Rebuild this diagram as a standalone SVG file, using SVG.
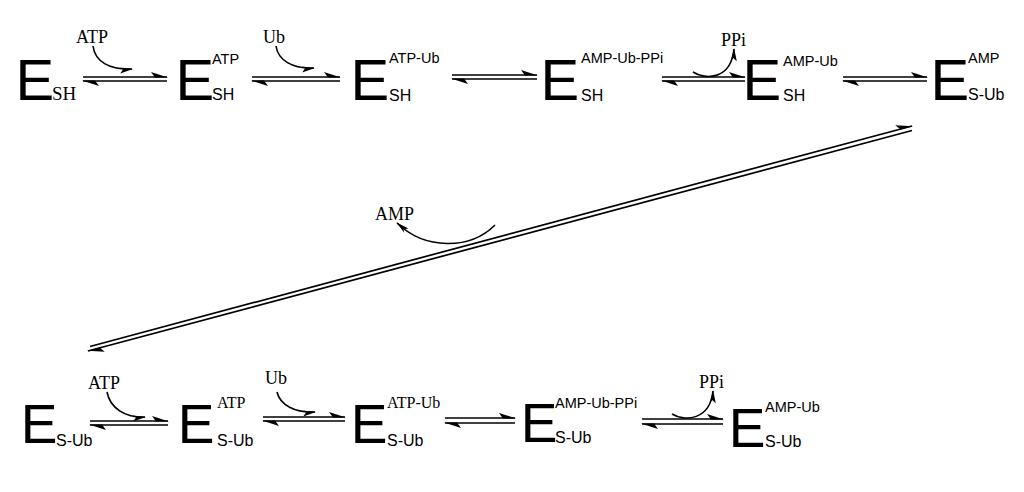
<svg xmlns="http://www.w3.org/2000/svg" width="1024" height="492" viewBox="0 0 1024 492">
<defs>
<style>
.E{font-family:"Liberation Sans",Arial,sans-serif;fill:#000}
.e1{font-size:58px}
.e2{font-size:55px}
.sup{font-family:"Liberation Sans",Arial,sans-serif;font-size:14.5px;fill:#000}
.sub{font-family:"Liberation Sans",Arial,sans-serif;font-size:16px;fill:#000}
.ser{font-family:"Liberation Serif","Times New Roman",serif;fill:#000}
.lab{font-size:18px}
.ln{stroke:#000;stroke-width:1.7;fill:none;marker-end:url(#harp)}
.cv{stroke:#000;stroke-width:1.6;fill:none;marker-end:url(#barb)}
</style>
<marker id="harp" markerUnits="userSpaceOnUse" orient="auto" refX="0" refY="0" markerWidth="20" markerHeight="12" viewBox="-18 -6 20 12" overflow="visible">
<path d="M1,0.4 L-16,-5 L-12,0.4 Z" fill="#000"/>
</marker>
<marker id="barb" markerUnits="userSpaceOnUse" orient="auto" refX="0" refY="0" markerWidth="14" markerHeight="10" viewBox="-12 -5 14 10" overflow="visible">
<path d="M1,0 L-12,4 L-9,0 L-12,-2 Z" fill="#000"/>
</marker>
</defs>
<rect width="1024" height="492" fill="#fff"/>

<g id="connectors">
<path class="ln" d="M83,77 H167"/><path class="ln" d="M167,81 H83"/>
<path class="ln" d="M252,77 H340"/><path class="ln" d="M340,81 H252"/>
<path class="ln" d="M452,75 H537"/><path class="ln" d="M537,79 H452"/>
<path class="ln" d="M662,77 H745"/><path class="ln" d="M745,81 H662"/>
<path class="ln" d="M843,77 H927"/><path class="ln" d="M927,81 H843"/>
<path class="ln" d="M90,346.5 L912,126"/><path class="ln" d="M912,130.5 L88,351"/>
<path class="ln" d="M90,421 H168"/><path class="ln" d="M168,425 H90"/>
<path class="ln" d="M263,417 H345"/><path class="ln" d="M345,421 H263"/>
<path class="ln" d="M445,418 H515"/><path class="ln" d="M515,423 H445"/>
<path class="ln" d="M642,419 H723"/><path class="ln" d="M723,424 H642"/>
<path class="cv" d="M93,46 C95,62 110,70 132,69"/>
<path class="cv" d="M276,46 C278,60 292,69 314,68"/>
<path class="cv" d="M693,72 C705,80 731,80 734,49"/>
<path class="cv" d="M495,225 C470,250 425,250 397,223"/>
<path class="cv" d="M107,392 C110,408 125,418 145,417"/>
<path class="cv" d="M277,392 C280,405 295,413 315,412"/>
<path class="cv" d="M672,414 C685,422 710,420 713,391"/>
</g>

<g id="labels">
<text class="ser lab" x="76" y="43">ATP</text>
<text class="ser lab" x="263" y="43">Ub</text>
<text class="ser lab" x="721" y="46">PPi</text>
<text class="ser lab" x="375" y="220">AMP</text>
<text class="ser lab" x="88" y="389">ATP</text>
<text class="ser lab" x="265" y="384">Ub</text>
<text class="ser lab" x="699" y="388">PPi</text>
</g>

<g id="n1"><text class="E e1" x="15.5" y="100">E</text><text class="ser" font-size="19" x="52" y="100">SH</text></g>
<g id="n2"><text class="E e1" x="175.5" y="100">E</text><text class="sup" x="212" y="64">ATP</text><text class="sub" x="212" y="100">SH</text></g>
<g id="n3"><text class="E e1" x="350.5" y="100">E</text><text class="sup" x="389" y="63" font-size="15.5">ATP-Ub</text><text class="sub" x="389" y="101">SH</text></g>
<g id="n4"><text class="E e1" x="540.5" y="100">E</text><text class="sup" x="581" y="63">AMP-Ub-PPi</text><text class="sub" x="581" y="101">SH</text></g>
<g id="n5"><text class="E e1" x="742.5" y="100">E</text><text class="sup" x="783" y="66">AMP-Ub</text><text class="sub" x="783" y="101">SH</text></g>
<g id="n6"><text class="E e1" x="930.5" y="100">E</text><text class="sup" x="968" y="63">AMP</text><text class="sub" x="968" y="100">S-Ub</text></g>

<g id="n7"><text class="E e2" x="20.7" y="443">E</text><text class="sub" x="56" y="446">S-Ub</text></g>
<g id="n8"><text class="E e2" x="177.7" y="443">E</text><text class="ser" font-size="16" x="217" y="408">ATP</text><text class="sub" x="217" y="446">S-Ub</text></g>
<g id="n9"><text class="E e2" x="350.7" y="443">E</text><text class="ser" font-size="16" x="387" y="408">ATP-Ub</text><text class="sub" x="387" y="446">S-Ub</text></g>
<g id="n10"><text class="E e2" x="520.7" y="442">E</text><text class="sup" x="555" y="408">AMP-Ub-PPi</text><text class="sub" x="555" y="443">S-Ub</text></g>
<g id="n11"><text class="E e2" x="728.7" y="447">E</text><text class="sup" x="765" y="412">AMP-Ub</text><text class="sub" x="765" y="447">S-Ub</text></g>
</svg>
